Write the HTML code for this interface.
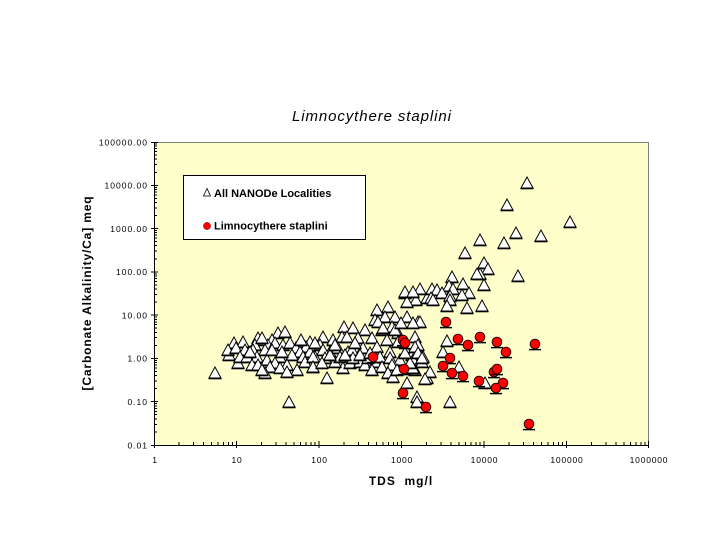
<!DOCTYPE html>
<html>
<head>
<meta charset="utf-8">
<style>
html,body{margin:0;padding:0;background:#fff;}
body{width:720px;height:540px;overflow:hidden;}
svg{display:block;font-family:"Liberation Sans",Arial,sans-serif;}
</style>
</head>
<body>
<svg width="720" height="540" viewBox="0 0 720 540" xmlns="http://www.w3.org/2000/svg" xmlns:xlink="http://www.w3.org/1999/xlink">
<defs>
<g id="t"><polygon points="0,-6 -6,5 6,5" fill="#fff" stroke="#000" stroke-width="1"/><line x1="-6.5" y1="5.6" x2="6.5" y2="5.6" stroke="#000" stroke-width="1.4"/></g>
<g id="c"><line x1="-6" y1="5.6" x2="6" y2="5.6" stroke="#000" stroke-width="1.5"/><circle r="4.9" fill="#ff0000" stroke="#000" stroke-width="0.8"/></g>
</defs>

<text x="292" y="121" font-size="15" font-style="italic" letter-spacing="0.9" fill="#000">Limnocythere staplini</text>

<rect x="154" y="142" width="495" height="303" fill="#ffffcc"/>
<line x1="154" y1="142.5" x2="649" y2="142.5" stroke="#808080" stroke-width="1"/>
<line x1="648.5" y1="142" x2="648.5" y2="445" stroke="#808080" stroke-width="1"/>

<rect x="183.5" y="175.5" width="182" height="64" fill="#fff" stroke="#000" stroke-width="1"/>
<polygon points="207,188.5 203.5,196 210.5,196" fill="#fff" stroke="#000" stroke-width="0.8"/>
<text x="214" y="197" font-size="11" font-weight="bold" fill="#000">All NANODe Localities</text>
<circle cx="207" cy="226" r="3.6" fill="#ff0000" stroke="#600" stroke-width="0.5"/>
<text x="214" y="229.5" font-size="11" font-weight="bold" fill="#000">Limnocythere staplini</text>

<g>
<use href="#t" x="215" y="373"/>
<use href="#t" x="289" y="402"/>
<use href="#t" x="234" y="343"/>
<use href="#t" x="243" y="342"/>
<use href="#t" x="229" y="355"/>
<use href="#t" x="228" y="350"/>
<use href="#t" x="238" y="363"/>
<use href="#t" x="236" y="348"/>
<use href="#t" x="245" y="350"/>
<use href="#t" x="240" y="357"/>
<use href="#t" x="278" y="333"/>
<use href="#t" x="285" y="332"/>
<use href="#t" x="258" y="338"/>
<use href="#t" x="262" y="340"/>
<use href="#t" x="272" y="340"/>
<use href="#t" x="255" y="345"/>
<use href="#t" x="268" y="345"/>
<use href="#t" x="302" y="342"/>
<use href="#t" x="310" y="342"/>
<use href="#t" x="253" y="350"/>
<use href="#t" x="265" y="350"/>
<use href="#t" x="275" y="343"/>
<use href="#t" x="283" y="345"/>
<use href="#t" x="290" y="343"/>
<use href="#t" x="296" y="348"/>
<use href="#t" x="306" y="347"/>
<use href="#t" x="300" y="352"/>
<use href="#t" x="310" y="352"/>
<use href="#t" x="247" y="357"/>
<use href="#t" x="257" y="357"/>
<use href="#t" x="267" y="360"/>
<use href="#t" x="280" y="357"/>
<use href="#t" x="292" y="355"/>
<use href="#t" x="303" y="357"/>
<use href="#t" x="315" y="357"/>
<use href="#t" x="305" y="362"/>
<use href="#t" x="252" y="365"/>
<use href="#t" x="258" y="365"/>
<use href="#t" x="275" y="363"/>
<use href="#t" x="287" y="365"/>
<use href="#t" x="270" y="367"/>
<use href="#t" x="280" y="368"/>
<use href="#t" x="297" y="370"/>
<use href="#t" x="313" y="367"/>
<use href="#t" x="265" y="373"/>
<use href="#t" x="287" y="372"/>
<use href="#t" x="262" y="370"/>
<use href="#t" x="272" y="350"/>
<use href="#t" x="282" y="352"/>
<use href="#t" x="250" y="352"/>
<use href="#t" x="262" y="338"/>
<use href="#t" x="301" y="340"/>
<use href="#t" x="323" y="337"/>
<use href="#t" x="344" y="327"/>
<use href="#t" x="342" y="337"/>
<use href="#t" x="327" y="378"/>
<use href="#t" x="343" y="368"/>
<use href="#t" x="320" y="345"/>
<use href="#t" x="330" y="352"/>
<use href="#t" x="348" y="352"/>
<use href="#t" x="335" y="362"/>
<use href="#t" x="350" y="363"/>
<use href="#t" x="360" y="362"/>
<use href="#t" x="365" y="365"/>
<use href="#t" x="375" y="362"/>

<use href="#t" x="377" y="310"/>
<use href="#t" x="388" y="307"/>
<use href="#t" x="405" y="293"/>
<use href="#t" x="416" y="300"/>
<use href="#t" x="407" y="302"/>
<use href="#t" x="375" y="320"/>
<use href="#t" x="385" y="317"/>
<use href="#t" x="395" y="317"/>
<use href="#t" x="407" y="317"/>
<use href="#t" x="418" y="322"/>
<use href="#t" x="378" y="322"/>
<use href="#t" x="353" y="328"/>
<use href="#t" x="365" y="330"/>
<use href="#t" x="382" y="330"/>
<use href="#t" x="392" y="327"/>
<use href="#t" x="398" y="333"/>
<use href="#t" x="415" y="337"/>
<use href="#t" x="333" y="340"/>
<use href="#t" x="347" y="337"/>
<use href="#t" x="358" y="338"/>
<use href="#t" x="372" y="338"/>
<use href="#t" x="387" y="340"/>
<use href="#t" x="398" y="342"/>
<use href="#t" x="418" y="345"/>
<use href="#t" x="315" y="343"/>
<use href="#t" x="323" y="350"/>
<use href="#t" x="338" y="348"/>
<use href="#t" x="352" y="350"/>
<use href="#t" x="363" y="348"/>
<use href="#t" x="377" y="347"/>
<use href="#t" x="390" y="352"/>
<use href="#t" x="407" y="352"/>
<use href="#t" x="412" y="355"/>
<use href="#t" x="423" y="357"/>
<use href="#t" x="313" y="357"/>
<use href="#t" x="325" y="358"/>
<use href="#t" x="340" y="357"/>
<use href="#t" x="353" y="358"/>
<use href="#t" x="368" y="358"/>
<use href="#t" x="380" y="357"/>
<use href="#t" x="390" y="358"/>
<use href="#t" x="400" y="360"/>
<use href="#t" x="413" y="360"/>
<use href="#t" x="422" y="362"/>
<use href="#t" x="313" y="367"/>
<use href="#t" x="322" y="363"/>
<use href="#t" x="372" y="370"/>
<use href="#t" x="382" y="367"/>
<use href="#t" x="392" y="365"/>
<use href="#t" x="388" y="373"/>
<use href="#t" x="415" y="370"/>
<use href="#t" x="407" y="383"/>
<use href="#t" x="427" y="378"/>
<use href="#t" x="417" y="397"/>
<use href="#t" x="427" y="298"/>
<use href="#t" x="383" y="328"/>
<use href="#t" x="395" y="330"/>
<use href="#t" x="401" y="323"/>
<use href="#t" x="420" y="322"/>
<use href="#t" x="360" y="355"/>
<use href="#t" x="345" y="355"/>
<use href="#t" x="330" y="355"/>
<use href="#t" x="370" y="353"/>
<use href="#t" x="355" y="343"/>
<use href="#t" x="335" y="345"/>

<use href="#t" x="527" y="183"/>
<use href="#t" x="507" y="205"/>
<use href="#t" x="570" y="222"/>
<use href="#t" x="516" y="233"/>
<use href="#t" x="541" y="236"/>
<use href="#t" x="480" y="240"/>
<use href="#t" x="504" y="243"/>
<use href="#t" x="465" y="253"/>
<use href="#t" x="484" y="263"/>
<use href="#t" x="488" y="269"/>
<use href="#t" x="480" y="274"/>
<use href="#t" x="518" y="276"/>
<use href="#t" x="452" y="277"/>
<use href="#t" x="477" y="274"/>
<use href="#t" x="484" y="285"/>
<use href="#t" x="463" y="284"/>
<use href="#t" x="449" y="286"/>
<use href="#t" x="420" y="289"/>
<use href="#t" x="432" y="289"/>
<use href="#t" x="405" y="292"/>
<use href="#t" x="413" y="292"/>
<use href="#t" x="437" y="290"/>
<use href="#t" x="442" y="293"/>
<use href="#t" x="453" y="289"/>
<use href="#t" x="469" y="293"/>
<use href="#t" x="462" y="295"/>
<use href="#t" x="450" y="296"/>
<use href="#t" x="431" y="298"/>
<use href="#t" x="450" y="300"/>
<use href="#t" x="447" y="306"/>
<use href="#t" x="467" y="308"/>
<use href="#t" x="482" y="306"/>
<use href="#t" x="433" y="300"/>
<use href="#t" x="415" y="347"/>
<use href="#t" x="418" y="353"/>
<use href="#t" x="443" y="352"/>
<use href="#t" x="447" y="341"/>
<use href="#t" x="430" y="372"/>
<use href="#t" x="425" y="379"/>
<use href="#t" x="459" y="367"/>
<use href="#t" x="485" y="383"/>
<use href="#t" x="417" y="402"/>
<use href="#t" x="450" y="402"/>
<use href="#t" x="393" y="377"/>
<use href="#t" x="397" y="370"/>
<use href="#t" x="413" y="368"/>
<use href="#t" x="410" y="363"/>
<use href="#t" x="422" y="358"/>
<use href="#t" x="405" y="353"/>
<use href="#t" x="413" y="323"/>
</g>

<g>
<use href="#c" x="446" y="322"/>
<use href="#c" x="403" y="340"/>
<use href="#c" x="405" y="343"/>
<use href="#c" x="458" y="339"/>
<use href="#c" x="480" y="337"/>
<use href="#c" x="468" y="345"/>
<use href="#c" x="497" y="342"/>
<use href="#c" x="535" y="344"/>
<use href="#c" x="506" y="352"/>
<use href="#c" x="450" y="358"/>
<use href="#c" x="443" y="366"/>
<use href="#c" x="373" y="357"/>
<use href="#c" x="404" y="369"/>
<use href="#c" x="452" y="373"/>
<use href="#c" x="463" y="376"/>
<use href="#c" x="494" y="372"/>
<use href="#c" x="497" y="369"/>
<use href="#c" x="479" y="381"/>
<use href="#c" x="503" y="383"/>
<use href="#c" x="496" y="388"/>
<use href="#c" x="403" y="393"/>
<use href="#c" x="426" y="407"/>
<use href="#c" x="529" y="424"/>
</g>

<g stroke="#000" stroke-width="1" fill="none" shape-rendering="crispEdges">
<line x1="154.5" y1="142" x2="154.5" y2="446"/>
<line x1="154" y1="445.5" x2="649" y2="445.5"/>
<path d="M151,445.5h7M151,401.7h7M151,358.4h7M151,315.1h7M151,271.8h7M151,228.6h7M151,185.3h7M151,142.5h7"/>
<path d="M154,432h3M154,424.3h3M154,418.9h3M154,414.7h3M154,411.3h3M154,408.4h3M154,405.9h3M154,403.7h3M154,388.7h3M154,381h3M154,375.6h3M154,371.4h3M154,368h3M154,365.1h3M154,362.6h3M154,360.4h3M154,345.4h3M154,337.7h3M154,332.3h3M154,328.1h3M154,324.7h3M154,321.8h3M154,319.3h3M154,317.1h3M154,302.1h3M154,294.4h3M154,289h3M154,284.8h3M154,281.4h3M154,278.5h3M154,276h3M154,273.8h3M154,258.8h3M154,251.1h3M154,245.7h3M154,241.5h3M154,238.1h3M154,235.2h3M154,232.7h3M154,230.5h3M154,215.6h3M154,207.9h3M154,202.5h3M154,198.3h3M154,194.9h3M154,192h3M154,189.5h3M154,187.3h3M154,172.3h3M154,164.6h3M154,159.2h3M154,155h3M154,151.6h3M154,148.7h3M154,146.2h3M154,144h3"/>
<path d="M154.5,441v7M236.5,441v7M319,441v7M401.5,441v7M484,441v7M566.5,441v7M648.5,441v7"/>
<path d="M178.8,445v-3M193.4,445v-3M203.7,445v-3M211.7,445v-3M218.2,445v-3M223.7,445v-3M228.5,445v-3M232.7,445v-3M261.3,445v-3M275.9,445v-3M286.2,445v-3M294.2,445v-3M300.7,445v-3M306.2,445v-3M311,445v-3M315.2,445v-3M343.8,445v-3M358.4,445v-3M368.7,445v-3M376.7,445v-3M383.2,445v-3M388.7,445v-3M393.5,445v-3M397.7,445v-3M426.3,445v-3M440.9,445v-3M451.2,445v-3M459.2,445v-3M465.7,445v-3M471.2,445v-3M476,445v-3M480.2,445v-3M508.8,445v-3M523.4,445v-3M533.7,445v-3M541.7,445v-3M548.2,445v-3M553.7,445v-3M558.5,445v-3M562.7,445v-3M591.3,445v-3M605.9,445v-3M616.2,445v-3M624.2,445v-3M630.7,445v-3M636.2,445v-3M641,445v-3M645.2,445v-3"/>
</g>

<g font-size="8.5" letter-spacing="1" text-anchor="end" fill="#000">
<text x="148" y="448.5">0.01</text>
<text x="148" y="405">0.10</text>
<text x="148" y="361.7">1.00</text>
<text x="148" y="318.4">10.00</text>
<text x="148" y="275.1">100.00</text>
<text x="148" y="231.9">1000.00</text>
<text x="148" y="188.6">10000.00</text>
<text x="148" y="145.5">100000.00</text>
</g>

<g font-size="8.5" letter-spacing="0.8" text-anchor="middle" fill="#000">
<text x="155" y="463">1</text>
<text x="237" y="463">10</text>
<text x="319.5" y="463">100</text>
<text x="402" y="463">1000</text>
<text x="484.5" y="463">10000</text>
<text x="567" y="463">100000</text>
<text x="649" y="463">1000000</text>
</g>

<text x="401" y="485" font-size="12" font-weight="bold" letter-spacing="1" text-anchor="middle" fill="#000" style="white-space:pre">TDS  mg/l</text>
<text transform="translate(91,293) rotate(-90)" font-size="12" font-weight="bold" letter-spacing="0.85" text-anchor="middle" fill="#000">[Carbonate Alkalinity/Ca] meq</text>
</svg>
</body>
</html>
